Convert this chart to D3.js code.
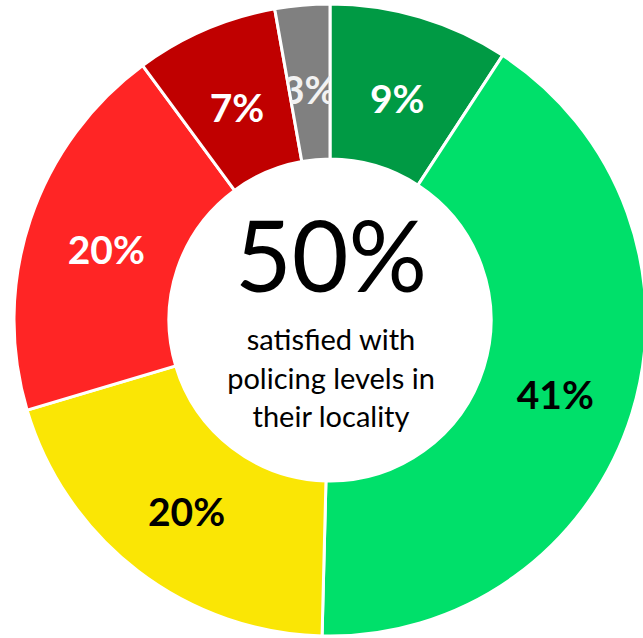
<!DOCTYPE html>
<html><head><meta charset="utf-8">
<script src="https://cdn.jsdelivr.net/npm/d3@7"></script>
<style>html,body{margin:0;padding:0;background:#fff;overflow:hidden}</style>
</head><body>
<svg id="c" width="643" height="638"></svg>
<script>
const categories = ["Very satisfied","Fairly satisfied","Neither","Fairly dissatisfied","Very dissatisfied","Don't know"];
const values = [9.2, 41.2, 20.0, 19.5, 7.3, 2.8];
const labels = ["9%","41%","20%","20%","7%","3%"];
const colors = ["#009A44","#00E06A","#FAE605","#FF2525","#C00000","#808080"];
const labelColors = ["#fff","#000","#000","#fff","#fff","#f2f2f2"];
const centerValue = "50%";
const centerText = ["satisfied with","policing levels in","their locality"];

const svg = d3.select("#c");
const cx = 330, cy = 320, rOuter = 316, rInner = 161;
const g = svg.append("g").attr("transform", `translate(${cx},${cy})`);
const pie = d3.pie().sort(null).value(d => d)(values);
const arc = d3.arc().innerRadius(rInner).outerRadius(rOuter);
const labelArc = d3.arc().innerRadius(236).outerRadius(236);

const defs = svg.append("defs");
pie.forEach((p,i) => {
  defs.append("clipPath").attr("id","clip"+i).append("path").attr("d", arc(p));
});

g.selectAll("path.slice").data(pie).join("path")
  .attr("class","slice")
  .attr("d", arc)
  .attr("fill", (d,i) => colors[i])
  .attr("stroke", "#fff").attr("stroke-width", 3);

const lg = g.selectAll("g.lbl").data(pie).join("g")
  .attr("class","lbl")
  .attr("clip-path", (d,i) => i === 5 ? "url(#clip5)" : null);
lg.append("text")
  .attr("transform", d => { const c = labelArc.centroid(d); return `translate(${c[0]},${c[1]+4})`; })
  .attr("text-anchor","middle").attr("dominant-baseline","central")
  .attr("font-family","Lato, 'Open Sans', sans-serif").attr("font-weight","bold")
  .attr("font-size", 39)
  .attr("fill", (d,i) => labelColors[i])
  .text((d,i) => labels[i]);

svg.append("text").attr("x", 331).attr("y", 292).attr("text-anchor","middle")
  .attr("font-family","Lato, 'Open Sans', sans-serif").attr("font-size", 98)
  .attr("fill","#000").text(centerValue);

const baselines = [350, 389, 427];
centerText.forEach((t,i) => {
  svg.append("text").attr("x", 331).attr("y", baselines[i]).attr("text-anchor","middle")
    .attr("font-family","Lato, 'Open Sans', sans-serif").attr("font-size", 29)
    .attr("fill","#000").text(t);
});
</script>
</body></html>
